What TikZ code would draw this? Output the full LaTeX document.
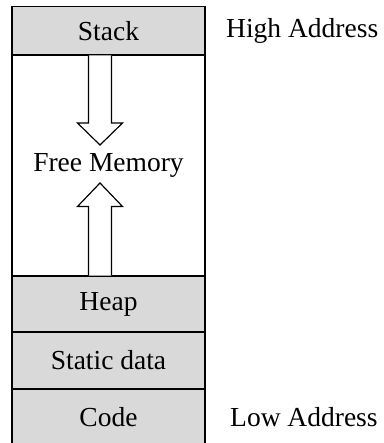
\documentclass[tikz,border=0pt]{standalone}
\usepackage{fontspec}
\setmainfont{Liberation Serif}
\definecolor{segfill}{HTML}{D9D9D9}
\tikzset{
  seg/.style={draw=black, line width=1.6pt, fill=segfill, minimum width=193pt,
    inner sep=0pt, font=\fontsize{27.5}{32}\selectfont},
  freeseg/.style={seg, fill=white},
  addr/.style={anchor=west, inner sep=0pt, font=\fontsize{27.5}{32}\selectfont},
  growarrow/.style={draw=black, line width=1.2pt, fill=white, line join=miter}
}
\begin{document}
\begin{tikzpicture}[x=1pt,y=-1pt]
  \useasboundingbox (0,0) rectangle (383,443);
  \clip (0,0) rectangle (383,443);
  % memory segments, top to bottom
  \node[freeseg, minimum height=221pt] (free) at (108.5,165.5) {Free Memory};
  \node[seg, minimum height=48.5pt] (stack) at (108.5,30.75) {Stack};
  \node[seg, minimum height=56pt] (heap) at (108.5,304) {Heap};
  \node[seg, minimum height=57pt] (static) at (108.5,360.5) {Static data};
  \node[seg, minimum height=57pt] (code) at (108.5,417.5) {Code};
  % stack grows down
  \draw[growarrow] (88.5,55.5) -- (88.5,123) -- (77.5,123) -- (100,145)
    -- (122.5,123) -- (111.5,123) -- (111.5,55.5);
  % heap grows up
  \draw[growarrow] (88.5,275.5) -- (88.5,206.5) -- (77.5,206.5) -- (100,183)
    -- (122.5,206.5) -- (111.5,206.5) -- (111.5,275.5);
  % address labels
  \node[addr] (high) at (226,31) {High Address};
  \node[addr] (low) at (230,417) {Low Address};
\end{tikzpicture}
\end{document}
